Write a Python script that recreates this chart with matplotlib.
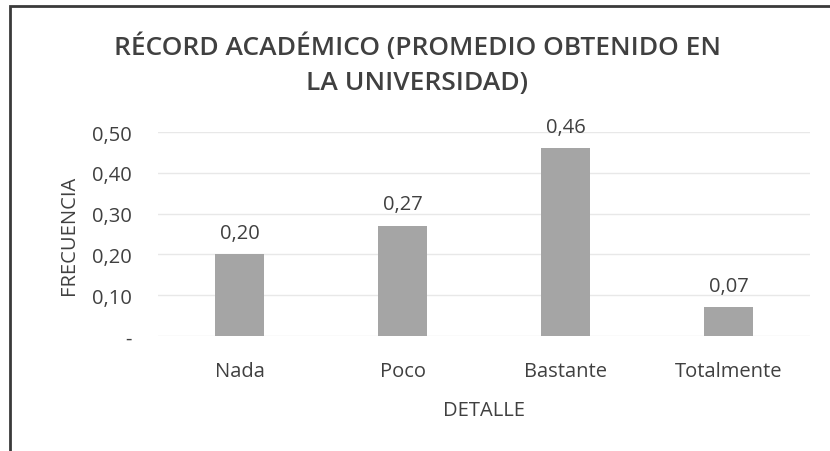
import matplotlib
matplotlib.use("Agg")
import matplotlib.pyplot as plt
from matplotlib.patches import Rectangle

categorias = ["Nada", "Poco", "Bastante", "Totalmente"]
frecuencia = [0.20, 0.27, 0.46, 0.07]
ticks_y = [0.0, 0.1, 0.2, 0.3, 0.4, 0.5]
etiquetas_y = ["-", "0,10", "0,20", "0,30", "0,40", "0,50"]

plt.rcParams["font.family"] = ["Open Sans", "DejaVu Sans"]
texto = "#404040"
tam = 14.5

fig = plt.figure(figsize=(8.3, 4.52), dpi=100)
ax = fig.add_axes([158 / 830, 1 - 337 / 452, 652 / 830, 204 / 452])

x = range(len(categorias))
barras = ax.bar(x, frecuencia, width=0.3, color="#a5a5a5", zorder=3)
for b, v in zip(barras, frecuencia):
    ax.text(b.get_x() + b.get_width() / 2, v + 0.028, ("%.2f" % v).replace(".", ","),
            ha="center", va="bottom", fontsize=tam, color=texto)

ax.set_xlim(-0.5, len(categorias) - 0.5)
ax.set_ylim(0, 0.5)
ax.set_yticks(ticks_y)
ax.set_yticklabels(etiquetas_y)
ax.set_xticks(list(x))
ax.set_xticklabels(categorias)
ax.tick_params(length=0, labelsize=tam, colors=texto, pad=19)
ax.tick_params(axis="x", pad=18)
ax.grid(axis="y", color="#e8e8e8", linewidth=1, zorder=0)
for s in ax.spines.values():
    s.set_visible(False)

ax.set_xlabel("DETALLE", fontsize=tam, color=texto, labelpad=14)
ax.set_ylabel("FRECUENCIA", fontsize=tam, color=texto, labelpad=9)

fig.text(0.503, 1 - 47 / 452, "RÉCORD ACADÉMICO (PROMEDIO OBTENIDO EN",
         ha="center", va="center", fontsize=19, fontweight="semibold", color=texto)
fig.text(0.503, 1 - 84 / 452, "LA UNIVERSIDAD)",
         ha="center", va="center", fontsize=19, fontweight="semibold", color=texto)

# marco del grafico
fig.patches.append(Rectangle((10 / 830, -0.05), 1.2, 1 - 7 / 452 + 0.05,
                             transform=fig.transFigure, fill=False,
                             edgecolor="#3a3a3a", linewidth=2))

fig.savefig("out.png", dpi=100, facecolor="white")
